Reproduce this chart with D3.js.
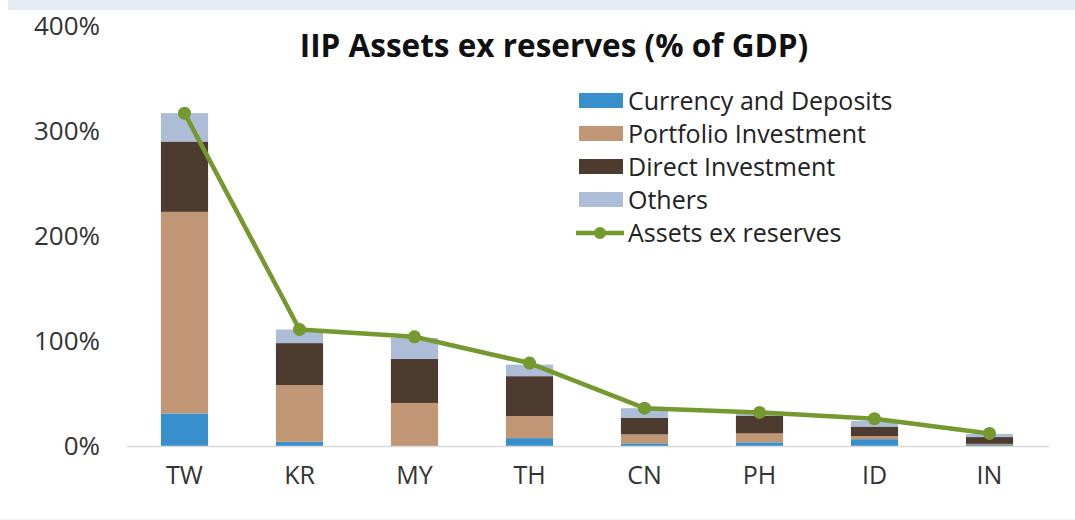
<!DOCTYPE html>
<html>
<head>
<meta charset="utf-8">
<script src="https://cdn.jsdelivr.net/npm/d3@7"></script>
<style>
  body { margin: 0; background: #fff; }
  svg { display: block; font-family: "Open Sans", "Noto Sans", sans-serif; }
</style>
</head>
<body>
<div id="chart"></div>
<script>
// values in % of GDP
const countries = ['TW', 'KR', 'MY', 'TH', 'CN', 'PH', 'ID', 'IN'];
const currencyDeposits = [31, 4, 0, 7.5, 2.5, 3.5, 6.5, 1];
const portfolioInvestment = [192, 54, 41, 21, 8.5, 8.5, 3, 1];
const directInvestment = [67, 40, 42, 38, 16, 17, 9, 6.5];
const others = [27, 13, 20, 11, 9, 2, 5.5, 3];
const assetsExReserves = [317, 111, 104, 79, 36, 32, 26, 12];
const yTicks = [0, 100, 200, 300, 400];

const seriesNames = ['Currency and Deposits', 'Portfolio Investment', 'Direct Investment', 'Others'];
const seriesColors = ['#3790cb', '#c09674', '#4e3b2f', '#adbcd7'];
const lineColor = '#73992f';

const width = 1075, height = 520;

const svg = d3.select('#chart').append('svg')
    .attr('width', width)
    .attr('height', height);

// pale strip along the top edge
svg.append('rect')
    .attr('x', 8).attr('y', 0)
    .attr('width', width - 8).attr('height', 10)
    .attr('fill', '#e6ecf4');
svg.append('line')
    .attr('x1', 0).attr('x2', width)
    .attr('y1', 519).attr('y2', 519)
    .attr('stroke', '#f0f0f0');

const x = d3.scaleBand()
    .domain(countries)
    .range([127, 1047])
    .paddingInner(0.59)
    .paddingOuter(0.295);

const y = d3.scaleLinear()
    .domain([0, 400])
    .range([446, 26]);

const rows = countries.map((c, i) => ({
    country: c,
    s0: currencyDeposits[i],
    s1: portfolioInvestment[i],
    s2: directInvestment[i],
    s3: others[i]
}));
const stacked = d3.stack().keys(['s0', 's1', 's2', 's3'])(rows);

svg.append('g')
    .selectAll('g')
    .data(stacked)
    .join('g')
    .attr('fill', (d, i) => seriesColors[i])
    .selectAll('rect')
    .data(d => d)
    .join('rect')
    .attr('x', d => x(d.data.country))
    .attr('width', x.bandwidth())
    .attr('y', d => y(d[1]))
    .attr('height', d => y(d[0]) - y(d[1]));

// baseline
svg.append('line')
    .attr('x1', 127).attr('x2', 1049)
    .attr('y1', y(0) + 0.5).attr('y2', y(0) + 0.5)
    .attr('stroke', '#d9d9d9')
    .attr('stroke-width', 1.5);

// y axis labels
const yAxis = svg.append('g')
    .attr('transform', 'translate(100,0)')
    .call(d3.axisLeft(y).tickValues(yTicks).tickSize(0).tickPadding(0).tickFormat(d => d + '%'));
yAxis.select('.domain').remove();
yAxis.selectAll('text')
    .attr('font-size', 26)
    .attr('fill', '#333')
    .style('font-family', '"Open Sans", sans-serif');

// x axis labels
const xAxis = svg.append('g')
    .attr('transform', `translate(0,${y(0)})`)
    .call(d3.axisBottom(x).tickSize(0).tickPadding(20));
xAxis.select('.domain').remove();
xAxis.selectAll('text')
    .attr('font-size', 25)
    .attr('fill', '#333')
    .style('font-family', '"Open Sans", sans-serif');

// total line
const line = d3.line()
    .x((d, i) => x(countries[i]) + x.bandwidth() / 2)
    .y(d => y(d));
svg.append('path')
    .datum(assetsExReserves)
    .attr('fill', 'none')
    .attr('stroke', lineColor)
    .attr('stroke-width', 4.5)
    .attr('stroke-linejoin', 'round')
    .attr('d', line);
svg.append('g')
    .selectAll('circle')
    .data(assetsExReserves)
    .join('circle')
    .attr('cx', (d, i) => x(countries[i]) + x.bandwidth() / 2)
    .attr('cy', d => y(d))
    .attr('r', 6.5)
    .attr('fill', lineColor);

// title
svg.append('text')
    .attr('x', 554).attr('y', 57)
    .attr('text-anchor', 'middle')
    .attr('font-size', 31.5)
    .attr('font-weight', 'bold')
    .attr('fill', '#111')
    .text('IIP Assets ex reserves (% of GDP)');

// legend
const legend = svg.append('g').attr('transform', 'translate(579,101)');
const items = seriesNames.concat(['Assets ex reserves']);
const li = legend.selectAll('g')
    .data(items)
    .join('g')
    .attr('transform', (d, i) => `translate(0,${i * 33})`);
li.filter((d, i) => i < 4).append('rect')
    .attr('x', 0).attr('y', -8)
    .attr('width', 44).attr('height', 15)
    .attr('fill', (d, i) => seriesColors[i]);
const lastItem = li.filter((d, i) => i === 4);
lastItem.append('line')
    .attr('x1', -3).attr('x2', 45)
    .attr('y1', 0).attr('y2', 0)
    .attr('stroke', lineColor)
    .attr('stroke-width', 4.5);
lastItem.append('circle')
    .attr('cx', 21).attr('cy', 0).attr('r', 6)
    .attr('fill', lineColor);
li.append('text')
    .attr('x', 49).attr('y', 0)
    .attr('dy', '0.35em')
    .attr('font-size', 25)
    .attr('fill', '#222')
    .text(d => d);
</script>
</body>
</html>
